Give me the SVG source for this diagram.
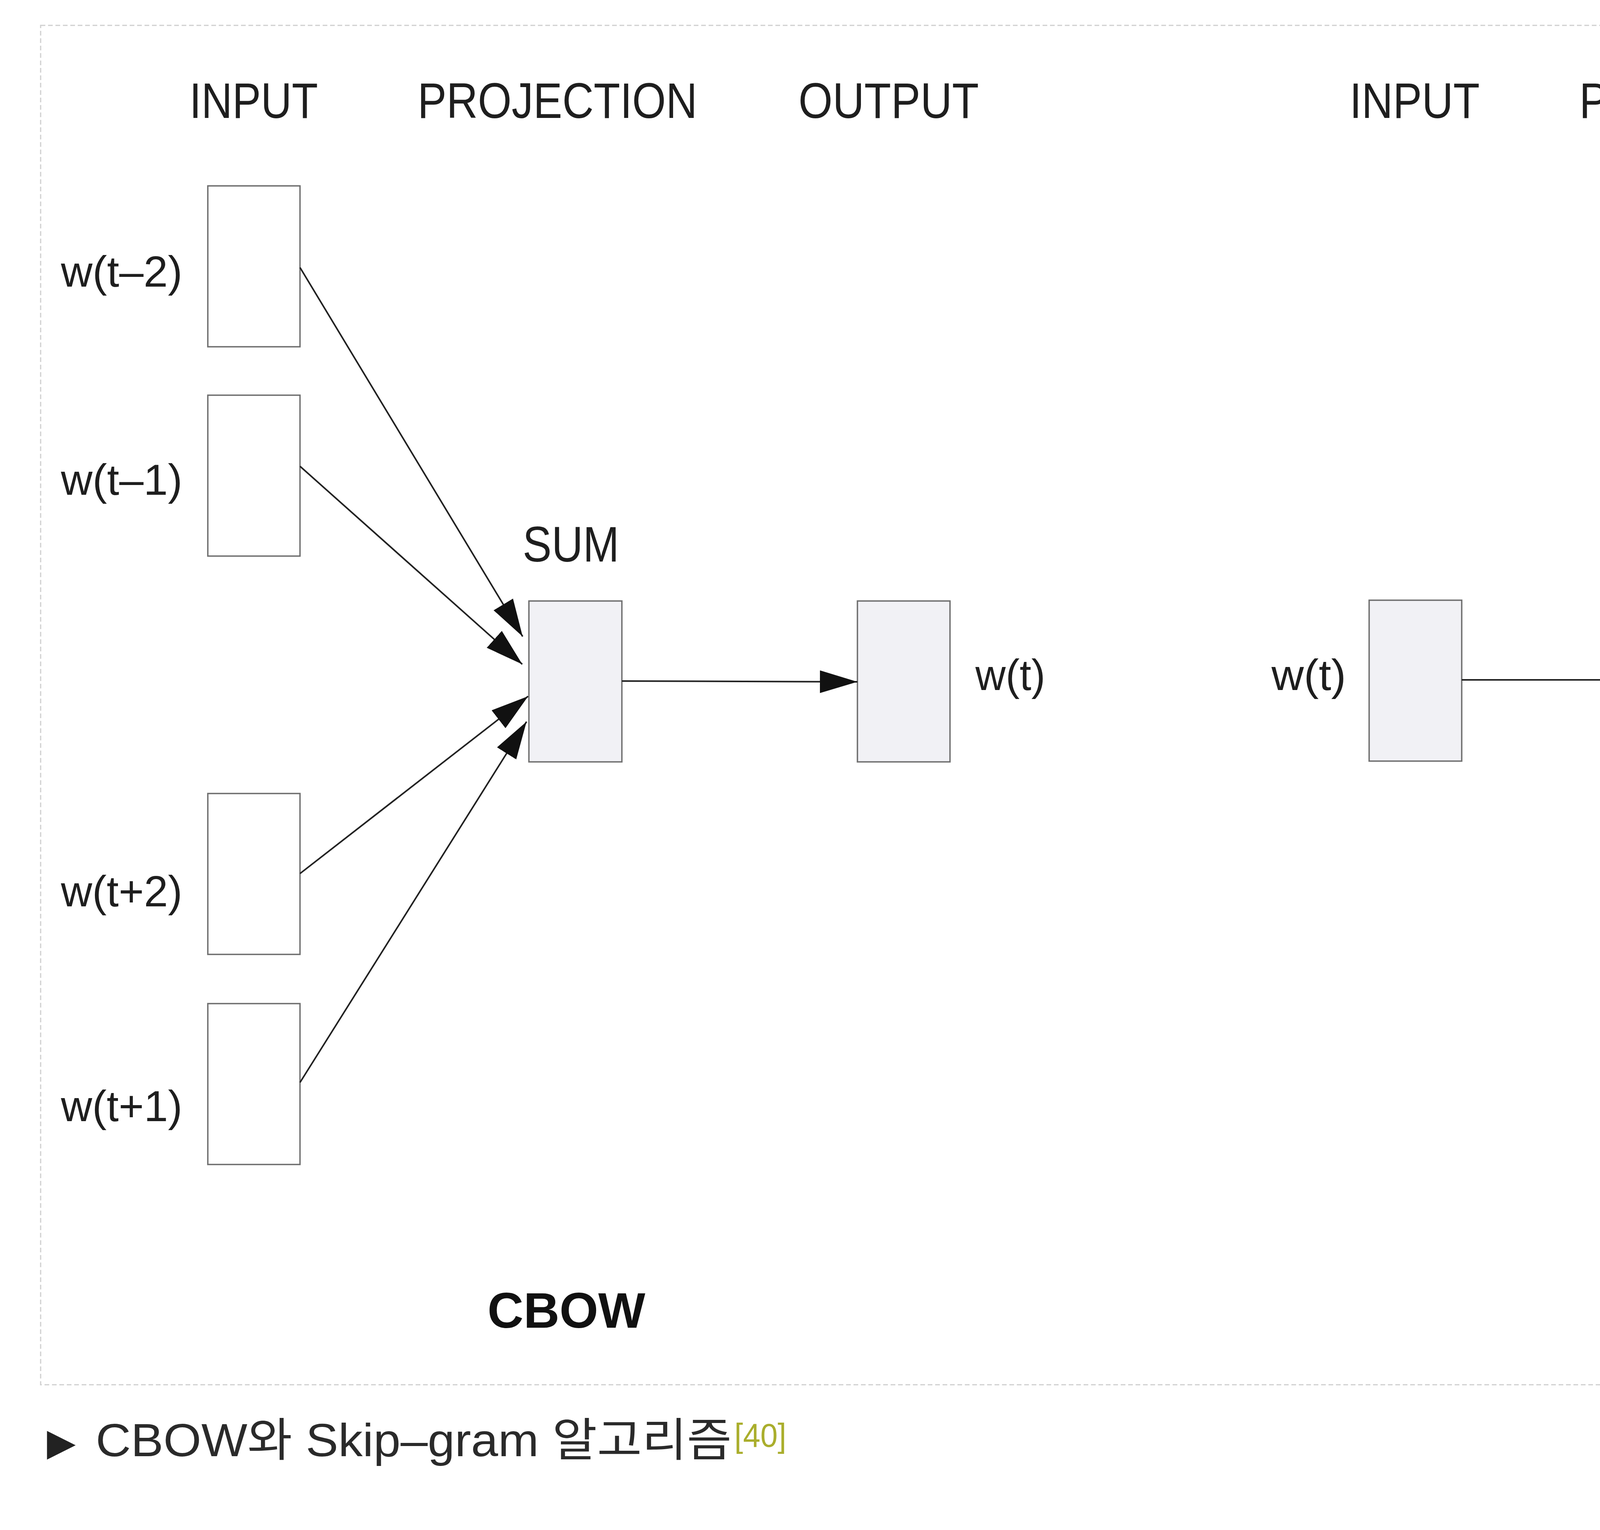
<svg xmlns="http://www.w3.org/2000/svg" width="5799" height="3918" viewBox="0 0 5799 3918">
<style>
.bg{fill:#ffffff}
.frame{fill:none;stroke:#cfcfcf;stroke-width:3;stroke-dasharray:12 7}
.box{stroke:#6e6e6e;stroke-width:3.5}
.in{fill:#ffffff}
.hl{fill:#f1f1f5}
.t{font-family:"Liberation Sans",Arial,sans-serif;fill:#1e1e1e}
.hdr{font-size:128px}
.lbl{font-size:112px}
.ttl{font-size:128px;font-weight:bold;fill:#111}
.cap{font-family:"Liberation Sans","Noto Sans CJK KR",sans-serif;font-size:118px;fill:#2a2a2a}
.ref{font-family:"Liberation Sans",sans-serif;font-size:86px;fill:#aaae2c}
.edge{stroke:#222;stroke-width:4;fill:none}
</style>
<defs>
<marker id="ah" markerUnits="userSpaceOnUse" markerWidth="96" markerHeight="58" refX="96" refY="29" orient="auto">
<path d="M0,0 L96,29 L0,58 Z" fill="#111"/>
</marker>
</defs>
<rect class="bg" x="0" y="0" width="5799" height="3918"/>
<rect class="frame" x="104" y="65" width="5576" height="3481"/>

<g id="cbow">
<text class="t hdr" x="485" y="302" textLength="329" lengthAdjust="spacingAndGlyphs">INPUT</text>
<text class="t hdr" x="1069" y="302" textLength="716" lengthAdjust="spacingAndGlyphs">PROJECTION</text>
<text class="t hdr" x="2044" y="302" textLength="462" lengthAdjust="spacingAndGlyphs">OUTPUT</text>
<g id="c-in-tm2"><rect class="box in" x="532" y="476" width="236" height="412"/><text class="t lbl" x="156" y="734" textLength="311" lengthAdjust="spacingAndGlyphs">w(t–2)</text></g>
<g id="c-in-tm1"><rect class="box in" x="532" y="1012" width="236" height="412"/><text class="t lbl" x="156" y="1267" textLength="311" lengthAdjust="spacingAndGlyphs">w(t–1)</text></g>
<g id="c-in-tp2"><rect class="box in" x="532" y="2032" width="236" height="412"/><text class="t lbl" x="156" y="2321" textLength="311" lengthAdjust="spacingAndGlyphs">w(t+2)</text></g>
<g id="c-in-tp1"><rect class="box in" x="532" y="2570" width="236" height="412"/><text class="t lbl" x="156" y="2871" textLength="311" lengthAdjust="spacingAndGlyphs">w(t+1)</text></g>
<g id="c-sum"><rect class="box hl" x="1354" y="1539" width="238" height="412"/><text class="t hdr" x="1338" y="1438" textLength="247" lengthAdjust="spacingAndGlyphs">SUM</text></g>
<g id="c-out"><rect class="box hl" x="2195" y="1539" width="237" height="412"/><text class="t lbl" x="2497" y="1767" textLength="179" lengthAdjust="spacingAndGlyphs">w(t)</text></g>
<text class="t ttl" x="1248" y="3400" textLength="404" lengthAdjust="spacingAndGlyphs">CBOW</text>
</g>

<g id="skipgram">
<text class="t hdr" x="3455" y="302" textLength="333" lengthAdjust="spacingAndGlyphs">INPUT</text>
<text class="t hdr" x="4043" y="302" textLength="716" lengthAdjust="spacingAndGlyphs">PROJECTION</text>
<text class="t hdr" x="4934" y="302" textLength="463" lengthAdjust="spacingAndGlyphs">OUTPUT</text>
<g id="s-in"><rect class="box hl" x="3505" y="1537" width="237" height="412"/><text class="t lbl" x="3255" y="1767" textLength="191" lengthAdjust="spacingAndGlyphs">w(t)</text></g>
<g id="s-proj"><rect class="box hl" x="4288" y="1537" width="240" height="412"/></g>
<g id="s-out-tm2"><rect class="box in" x="5036" y="475" width="240" height="412"/><text class="t lbl" x="5304" y="734" textLength="324" lengthAdjust="spacingAndGlyphs">w(t–2)</text></g>
<g id="s-out-tm1"><rect class="box in" x="5036" y="1008" width="240" height="412"/><text class="t lbl" x="5304" y="1267" textLength="324" lengthAdjust="spacingAndGlyphs">w(t–1)</text></g>
<g id="s-out-tp2"><rect class="box in" x="5036" y="2031" width="240" height="412"/><text class="t lbl" x="5304" y="2321" textLength="324" lengthAdjust="spacingAndGlyphs">w(t+2)</text></g>
<g id="s-out-tp1"><rect class="box in" x="5036" y="2568" width="240" height="412"/><text class="t lbl" x="5304" y="2870" textLength="324" lengthAdjust="spacingAndGlyphs">w(t+1)</text></g>
<text class="t ttl" x="4093" y="3398" textLength="643" lengthAdjust="spacingAndGlyphs">Skip–gram</text>
</g>

<g id="connectors">
<line class="edge" x1="768" y1="685" x2="1338" y2="1630" marker-end="url(#ah)"/>
<line class="edge" x1="768" y1="1194" x2="1337" y2="1701" marker-end="url(#ah)"/>
<line class="edge" x1="768" y1="2237" x2="1352" y2="1783" marker-end="url(#ah)"/>
<line class="edge" x1="768" y1="2772" x2="1348" y2="1848" marker-end="url(#ah)"/>
<line class="edge" x1="1592" y1="1744" x2="2195" y2="1746" marker-end="url(#ah)"/>
<line class="edge" x1="3742" y1="1741" x2="4288" y2="1741" marker-end="url(#ah)"/>
<line class="edge" x1="4528" y1="1550" x2="5036" y2="712" marker-end="url(#ah)"/>
<line class="edge" x1="4528" y1="1669" x2="5036" y2="1212" marker-end="url(#ah)"/>
<line class="edge" x1="4528" y1="1763" x2="5035" y2="2237" marker-end="url(#ah)"/>
<line class="edge" x1="4528" y1="1875" x2="5022" y2="2784" marker-end="url(#ah)"/>
</g>

<g id="caption">
<text x="120" y="3726" style="font-family:'DejaVu Sans',sans-serif;font-size:96px;fill:#222">▶</text>
<text class="cap" x="245" y="3729" textLength="1628" lengthAdjust="spacingAndGlyphs">CBOW와 Skip–gram 알고리즘</text>
<text class="ref" x="1880" y="3705" textLength="133" lengthAdjust="spacingAndGlyphs">[40]</text>
</g>
</svg>
